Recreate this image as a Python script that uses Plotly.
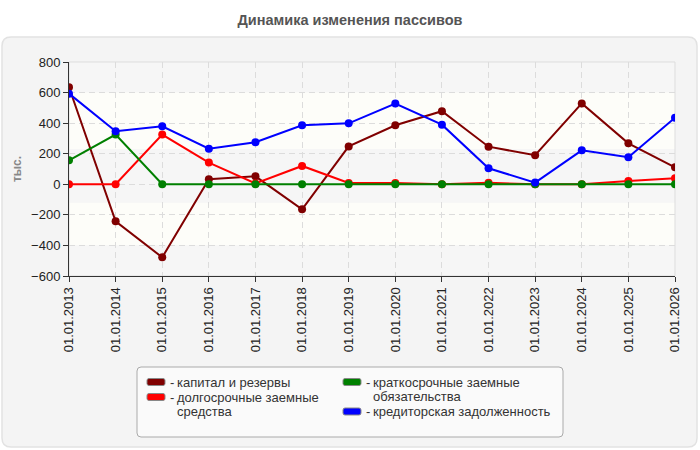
import plotly.graph_objects as go

# ---- data ----
years = ["01.01.2013", "01.01.2014", "01.01.2015", "01.01.2016", "01.01.2017",
         "01.01.2018", "01.01.2019", "01.01.2020", "01.01.2021", "01.01.2022",
         "01.01.2023", "01.01.2024", "01.01.2025", "01.01.2026"]
capital = [635, -242, -478, 33, 52, -164, 248, 386, 478, 246, 190, 529, 268, 111]
long_term = [0, 0, 325, 142, 5, 120, 8, 8, 0, 10, 0, 0, 22, 40]
short_term = [157, 325, 0, 0, 0, 0, 0, 0, 0, 0, 0, 0, 0, 0]
payables = [593, 347, 379, 233, 275, 386, 399, 528, 390, 105, 11, 222, 177, 436]

names = ["капитал и резервы", "долгосрочные заемные средства",
         "краткосрочные заемные обязательства", "кредиторская задолженность"]
legend_lines = [["капитал и резервы"],
                ["долгосрочные заемные", "средства"],
                ["краткосрочные заемные", "обязательства"],
                ["кредиторская задолженность"]]
colors = ["#800000", "#ff0000", "#008000", "#0000ff"]
series = [capital, long_term, short_term, payables]
y_ticks = [-600, -400, -200, 0, 200, 400, 600, 800]

FONT = "Liberation Sans, Arial, sans-serif"

# plot area in pixels
L, R, T, B = 69, 675, 62, 276
W, H = 700, 450


def px_x(p):
    return (p - L) / (R - L)


def px_y(p):
    return (B - p) / (B - T)


def rounded_rect(x0, y0, x1, y1, r):
    X0, X1, Y0, Y1 = px_x(x0), px_x(x1), px_y(y0), px_y(y1)
    rx = r / (R - L)
    ry = r / (B - T)
    return (f"M {X0+rx},{Y0} L {X1-rx},{Y0} Q {X1},{Y0} {X1},{Y0-ry} "
            f"L {X1},{Y1+ry} Q {X1},{Y1} {X1-rx},{Y1} L {X0+rx},{Y1} "
            f"Q {X0},{Y1} {X0},{Y1+ry} L {X0},{Y0-ry} Q {X0},{Y0} {X0+rx},{Y0} Z")


fig = go.Figure()

for vals, name, col in zip(series, names, colors):
    fig.add_trace(go.Scatter(
        x=years, y=vals, mode="lines+markers", name=name,
        line=dict(color=col, width=2), marker=dict(color=col, size=8),
        showlegend=False))

shapes = []
# panel
shapes.append(dict(type="path", xref="paper", yref="paper",
                   path=rounded_rect(2, 37, 697, 447, 9),
                   fillcolor="#f4f4f4", line=dict(color="#e2e2e2", width=1.5),
                   layer="below"))
# background bands
bands = [(600, 800, "#f6f6f6"), (230, 600, "#fdfdf9"), (-120, 230, "#f6f6f6"),
         (-400, -120, "#fdfdf9"), (-600, -400, "#f6f6f6")]
for lo, hi, c in bands:
    shapes.append(dict(type="rect", xref="paper", yref="y", x0=0, x1=1, y0=lo, y1=hi,
                       fillcolor=c, line=dict(width=0), layer="below"))
shapes.append(dict(type="rect", xref="paper", yref="paper", x0=0, x1=1, y0=0, y1=1,
                   line=dict(color="#dddddd", width=1), fillcolor="rgba(0,0,0,0)",
                   layer="below"))

# legend (box, swatches, texts)
shapes.append(dict(type="path", xref="paper", yref="paper",
                   path=rounded_rect(137, 367, 563, 437, 4),
                   fillcolor="#fafafa", line=dict(color="#aaaaaa", width=1),
                   layer="above"))
annotations = []
leg_pos = [(147, 382), (147, 397), (343, 382), (343, 411.5)]
for (sx, sy), col, lines in zip(leg_pos, colors, legend_lines):
    shapes.append(dict(type="path", xref="paper", yref="paper",
                       path=rounded_rect(sx, sy - 3.5, sx + 18, sy + 3.5, 2),
                       fillcolor=col, line=dict(color="#888888", width=1),
                       layer="above"))
    annotations.append(dict(xref="paper", yref="paper", x=px_x(sx + 21), y=px_y(sy),
                            xanchor="left", yanchor="middle", showarrow=False,
                            text="-", font=dict(family=FONT, size=13, color="#333")))
    for i, ln in enumerate(lines):
        annotations.append(dict(xref="paper", yref="paper", x=px_x(sx + 28),
                                y=px_y(sy + i * 14.5), xanchor="left", yanchor="middle",
                                showarrow=False, text=ln,
                                font=dict(family=FONT, size=13, color="#333")))

fig.update_layout(
    width=W, height=H,
    margin=dict(l=L, r=W - R, t=T, b=H - B),
    paper_bgcolor="white", plot_bgcolor="white",
    font=dict(family=FONT, size=13, color="#222"),
    title=dict(text="<b>Динамика изменения пассивов</b>", x=0.5, xref="container",
               xanchor="center", y=1 - 20 / H, yref="container", yanchor="middle",
               font=dict(family=FONT, size=14.5, color="#555")),
    shapes=shapes,
    annotations=annotations,
    showlegend=False,
    xaxis=dict(type="category", tickangle=-90, showgrid=True,
               gridcolor="#dcdcdc", griddash="6px,4px", gridwidth=1,
               showline=True, linecolor="#333", linewidth=1,
               ticks="outside", ticklen=5, tickcolor="#333",
               tickfont=dict(family=FONT, size=13, color="#222"),
               range=[0, len(years) - 1], zeroline=False),
    yaxis=dict(range=[-600, 800], tickvals=y_ticks, showgrid=True,
               gridcolor="#dcdcdc", griddash="6px,4px", gridwidth=1,
               showline=True, linecolor="#333", linewidth=1,
               ticks="outside", ticklen=5, tickcolor="#333",
               tickfont=dict(family=FONT, size=13, color="#222"),
               zeroline=False,
               title=dict(text="<b>тыс.</b>", standoff=6,
                          font=dict(family=FONT, size=12, color="#888"))),
)

fig.write_html("out.html")
